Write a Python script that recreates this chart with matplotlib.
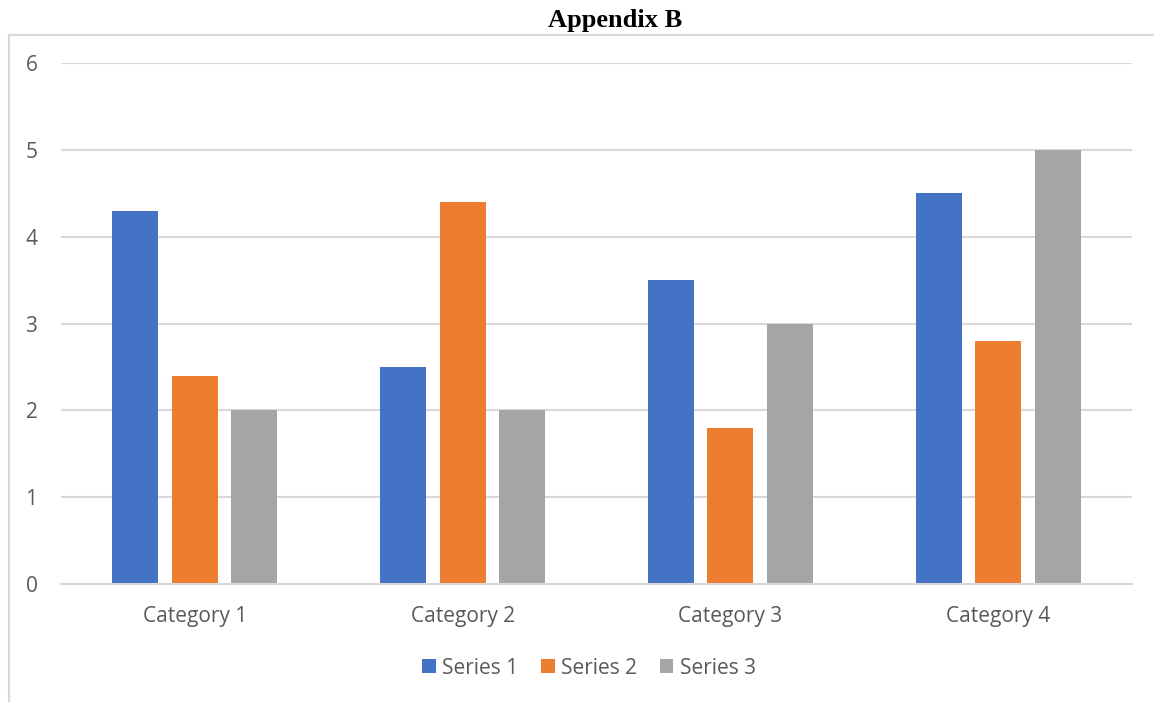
import numpy as np
import matplotlib
matplotlib.use("Agg")
import matplotlib.pyplot as plt
from matplotlib.patches import Patch
from matplotlib.lines import Line2D

categories = ["Category 1", "Category 2", "Category 3", "Category 4"]
series_names = ["Series 1", "Series 2", "Series 3"]
series_1 = [4.3, 2.5, 3.5, 4.5]
series_2 = [2.4, 4.4, 1.8, 2.8]
series_3 = [2.0, 2.0, 3.0, 5.0]
y_ticks = [0, 1, 2, 3, 4, 5, 6]

COLORS = ["#4472C4", "#ED7D31", "#A5A5A5"]
GRID = "#D9D9D9"
TEXT = "#595959"

plt.rcParams["font.family"] = ["Open Sans", "DejaVu Sans"]

W, H = 1154, 702
fig = plt.figure(figsize=(W / 100, H / 100), dpi=100)

# plot area in pixels: x 61..1132, y 63 (6) .. 584 (0)
ax = fig.add_axes([61 / W, 1 - 584 / H, (1132 - 61) / W, (584 - 63) / H])

x = np.arange(len(categories))
width = 0.172
step = 0.222
for i, vals in enumerate([series_1, series_2, series_3]):
    ax.bar(x + (i - 1) * step, vals, width, color=COLORS[i], zorder=3,
           label=series_names[i])

ax.set_xlim(-0.5, len(categories) - 0.5)
ax.set_ylim(0, 6)
ax.set_yticks(y_ticks)
ax.set_xticks(x)
ax.set_xticklabels(categories)
ax.grid(axis="y", color=GRID, linewidth=1.5, zorder=0)
for s in ["top", "right", "left"]:
    ax.spines[s].set_visible(False)
ax.spines["bottom"].set_color(GRID)
ax.spines["bottom"].set_linewidth(1.5)
ax.spines["bottom"].set_zorder(4)
ax.tick_params(axis="both", length=0, colors=TEXT, labelsize=15)
ax.tick_params(axis="y", pad=17)
ax.tick_params(axis="x", pad=16)

# legend below the axes
handles = [Patch(facecolor=c, edgecolor="none") for c in COLORS]
fig.legend(handles, series_names, loc="center", bbox_to_anchor=(589 / W, 1 - 668 / H),
           ncol=3, frameon=False, fontsize=15, labelcolor=TEXT,
           handlelength=0.65, handleheight=0.65, handletextpad=0.3, columnspacing=1.1)

# chart border (top and left edges)
fig.add_artist(Line2D([9 / W, 1], [1 - 35 / H, 1 - 35 / H], color=GRID, linewidth=1.5))
fig.add_artist(Line2D([9 / W, 9 / W], [0, 1 - 35 / H], color=GRID, linewidth=1.5))

fig.text(615 / W, 1 - 20 / H, "Appendix B", ha="center", va="center",
         fontsize=19, fontweight="bold", family="Liberation Serif", color="black")

fig.savefig("out.png", dpi=100)
